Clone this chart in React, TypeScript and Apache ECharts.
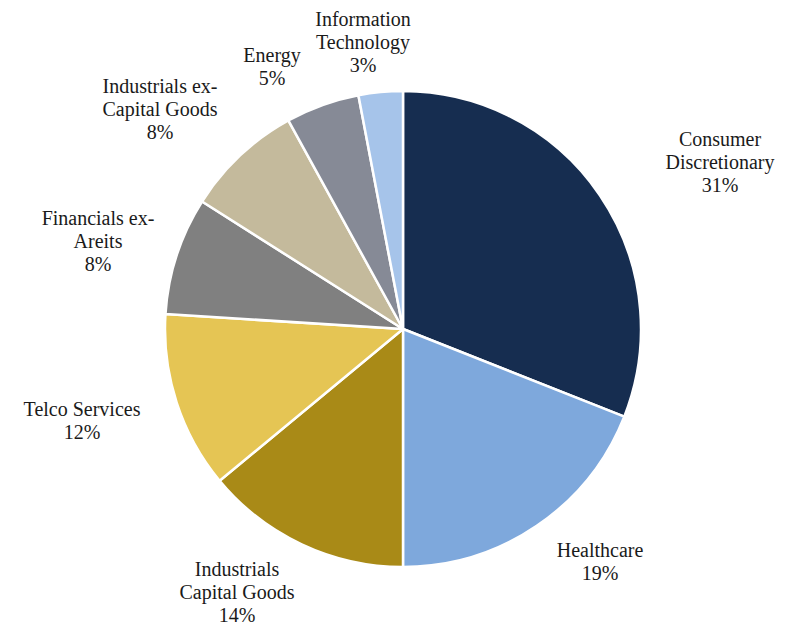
import React, { useEffect, useRef } from "react";
import * as echarts from "echarts";

const categories = [
  "Consumer\nDiscretionary",
  "Healthcare",
  "Industrials\nCapital Goods",
  "Telco Services",
  "Financials ex-\nAreits",
  "Industrials ex-\nCapital Goods",
  "Energy",
  "Information\nTechnology",
];
const values = [31, 19, 14, 12, 8, 8, 5, 3];
const colors = ["#162D50", "#7EA8DC", "#A98A17", "#E5C554", "#808080", "#C4BA9C", "#868A96", "#A6C4EA"];
// label block centers (px)
const labelCenters: [number, number][] = [
  [720, 162],
  [600, 561],
  [237, 592],
  [82, 420],
  [98, 241],
  [160, 109],
  [272, 66],
  [363, 42],
];

const FONT = "'Liberation Serif', 'Times New Roman', serif";

export default function App() {
  const ref = useRef<HTMLDivElement>(null);
  useEffect(() => {
    document.body.style.margin = "0";
    const chart = echarts.init(ref.current!, null, { renderer: "svg" });
    chart.setOption({
      animation: false,
      backgroundColor: "#ffffff",
      textStyle: { fontFamily: FONT },
      series: [
        {
          type: "pie",
          center: [403, 329],
          radius: 238,
          startAngle: 90,
          clockwise: true,
          avoidLabelOverlap: false,
          data: categories.map((name, i) => ({
            name,
            value: values[i],
            itemStyle: { color: colors[i] },
          })),
          itemStyle: { borderColor: "#ffffff", borderWidth: 2.5 },
          label: {
            show: true,
            position: "outside",
            formatter: (p: any) => `${p.name}\n${p.value}%`,
            fontFamily: FONT,
            fontSize: 20,
            lineHeight: 23,
            color: "#1a1a1a",
            align: "center",
          },
          labelLine: { show: false },
          labelLayout: (p: any) => {
            const c = labelCenters[p.dataIndex];
            return { x: c[0], y: c[1], align: "center", verticalAlign: "middle" };
          },
          emphasis: { disabled: true },
        },
      ],
    });
    return () => chart.dispose();
  }, []);
  return <div ref={ref} style={{ width: 792, height: 627 }} />;
}
